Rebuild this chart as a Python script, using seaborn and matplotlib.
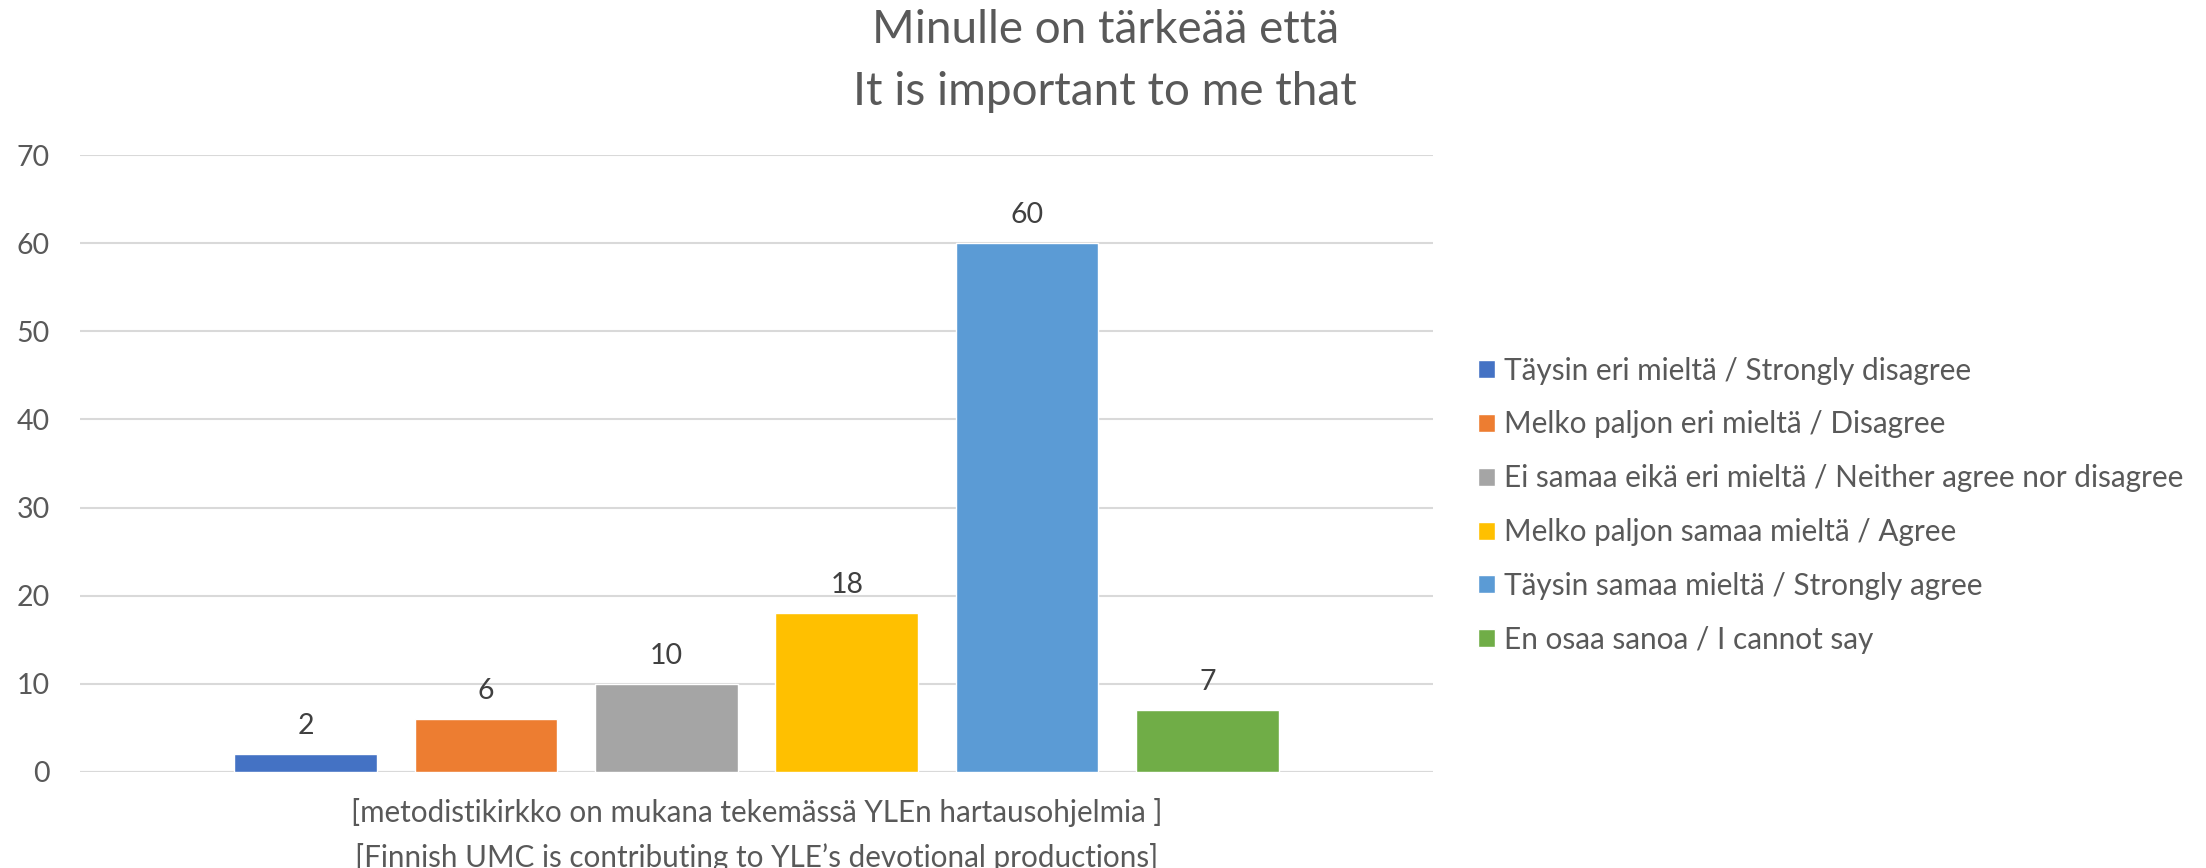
"""Survey chart: importance of UMC contributing to YLE devotional productions."""

import matplotlib.pyplot as plt
import pandas as pd
import seaborn as sns

QUESTION = ("[metodistikirkko on mukana tekemässä YLEn hartausohjelmia ]\n"
            "[Finnish UMC is contributing to YLE\u2019s devotional productions]")
RESPONSES = [
    "Täysin eri mieltä / Strongly disagree",
    "Melko paljon eri mieltä / Disagree",
    "Ei samaa eikä eri mieltä / Neither agree nor disagree",
    "Melko paljon samaa mieltä / Agree",
    "Täysin samaa mieltä / Strongly agree",
    "En osaa sanoa / I cannot say",
]
COUNTS = [2, 6, 10, 18, 60, 7]
COLORS = ["#4472C4", "#ED7D31", "#A5A5A5", "#FFC000", "#5B9BD5", "#70AD47"]
Y_TICKS = [0, 10, 20, 30, 40, 50, 60, 70]

TEXT = "#595959"
GRID = "#D9D9D9"

sns.set_theme(style="white")
plt.rcParams["font.family"] = ["Lato", "DejaVu Sans"]

df = pd.DataFrame({"question": [QUESTION] * len(RESPONSES), "response": RESPONSES, "count": COUNTS})

fig = plt.figure(figsize=(22.06, 8.68), dpi=100)
ax = fig.add_axes([0.0363, 0.1106, 0.6133, 0.7108])

sns.barplot(data=df, x="question", y="count", hue="response", hue_order=RESPONSES,
            palette=COLORS, width=0.8, gap=0.21, saturation=1, ax=ax)

for container in ax.containers:
    ax.bar_label(container, padding=11, fontsize=20.5, color="#404040")

ax.set_ylim(0, 70)
ax.set_yticks(Y_TICKS)
ax.set_xlim(-0.5, 0.5)
ax.yaxis.grid(True, color=GRID, linewidth=1.5)
ax.set_axisbelow(True)
sns.despine(ax=ax, left=True, bottom=True, top=True, right=True)
ax.axhline(0, color=GRID, linewidth=1.5, zorder=0)
ax.tick_params(axis="y", length=0, labelsize=20.5, labelcolor=TEXT, pad=22)
ax.tick_params(axis="x", length=0, labelsize=21.3, labelcolor=TEXT, pad=19)
for lbl in ax.get_xticklabels():
    lbl.set_linespacing(1.66)
ax.set_xlabel("")
ax.set_ylabel("")

handles, labels = ax.get_legend_handles_labels()
ax.get_legend().remove()
fig.legend(handles, labels, loc="center left", bbox_to_anchor=(0.658, 0.418),
           frameon=False, fontsize=21.4, labelcolor=TEXT, handlelength=0.55,
           handleheight=0.55, handletextpad=0.3, labelspacing=0.87)

fig.suptitle("Minulle on tärkeää että\nIt is important to me that", x=0.501, y=0.99,
             fontsize=33, color=TEXT, linespacing=1.59, va="top")

fig.savefig("out.png", dpi=100)
